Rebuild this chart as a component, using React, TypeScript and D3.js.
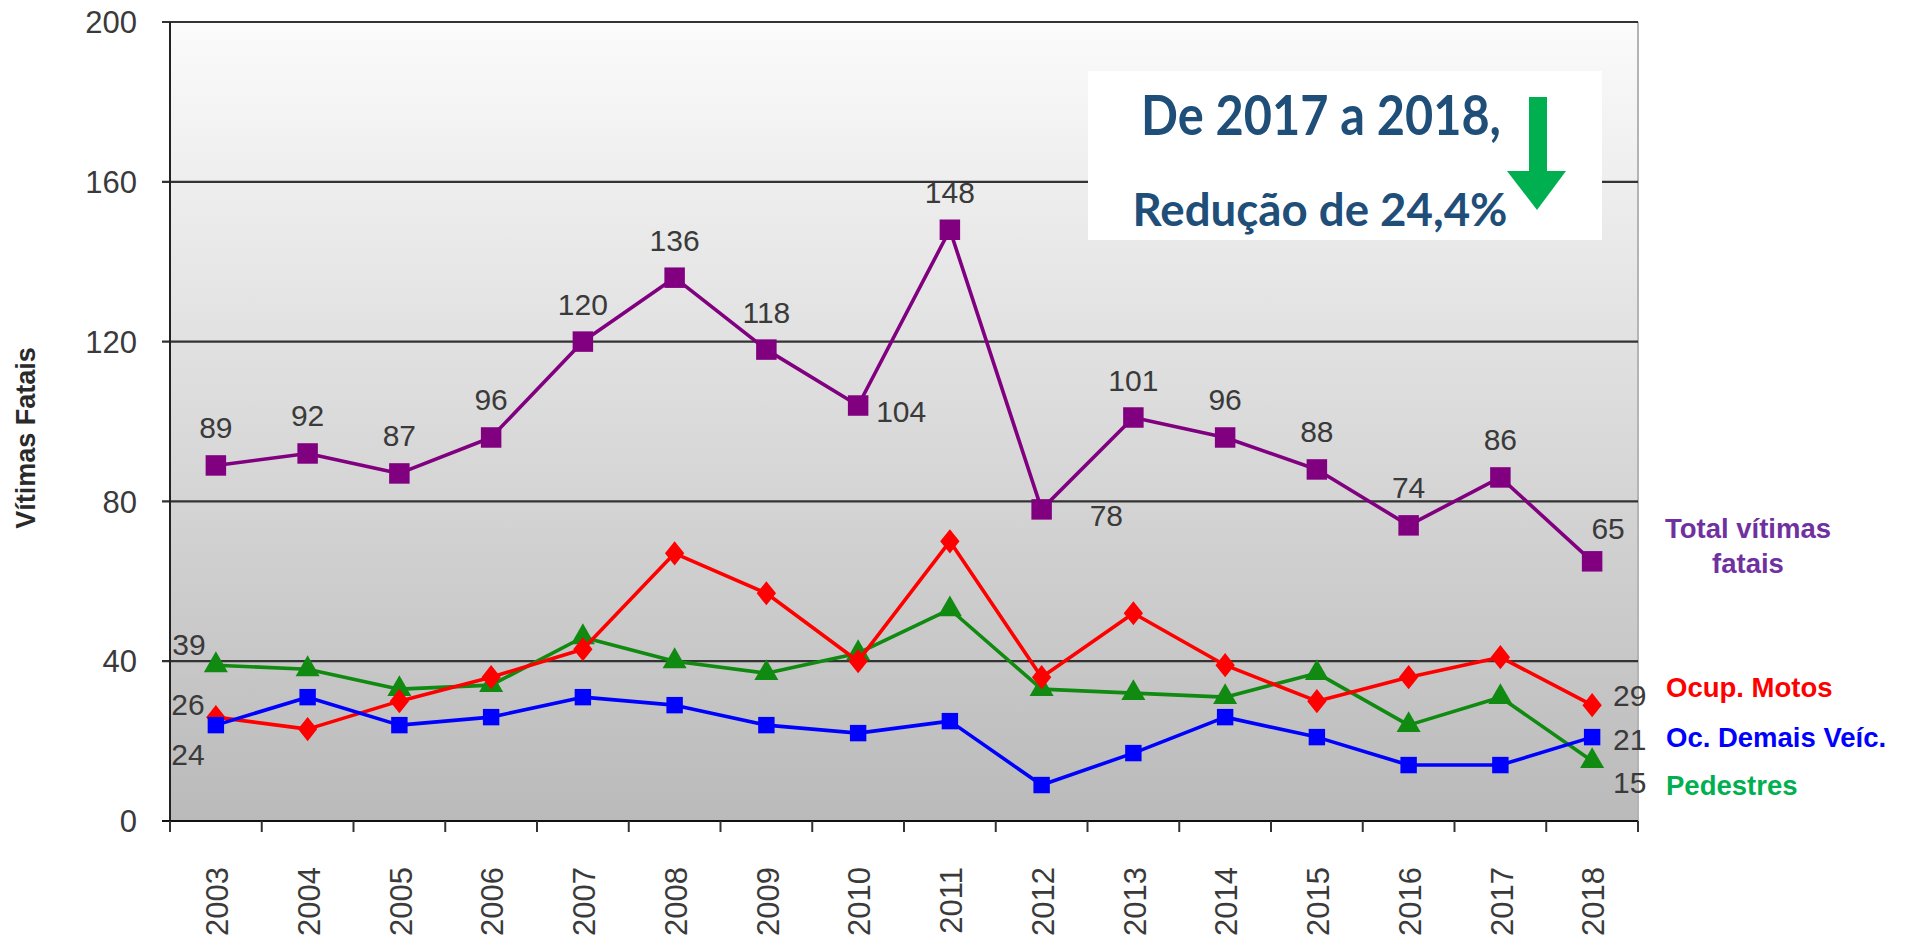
import React from "react";
import * as d3 from "d3";

const years = ["2003","2004","2005","2006","2007","2008","2009","2010","2011","2012","2013","2014","2015","2016","2017","2018"];
const totalVitimas = [89, 92, 87, 96, 120, 136, 118, 104, 148, 78, 101, 96, 88, 74, 86, 65];
const ocupMotos = [26, 23, 30, 36, 43, 67, 57, 40, 70, 36, 52, 39, 30, 36, 41, 29];
const demaisVeic = [24, 31, 24, 26, 31, 29, 24, 22, 25, 9, 17, 26, 21, 14, 14, 21];
const pedestres = [39, 38, 33, 34, 46, 40, 37, 42, 53, 33, 32, 31, 37, 24, 31, 15];
const yTicks = [0, 40, 80, 120, 160, 200];

const W = 1910, H = 952;
const left = 170, right = 1638, top = 22, bottom = 821;

const x = d3.scaleBand<string>().domain(years).range([left, right]).padding(0);
const y = d3.scaleLinear().domain([0, 200]).range([bottom, top]);
const cx = (i: number) => (x(years[i]) as number) + x.bandwidth() / 2;

const diamondType = {
  draw(ctx: any, size: number) {
    const h = Math.sqrt(size) * 0.62;
    const w = h * 0.8;
    ctx.moveTo(0, -h);
    ctx.lineTo(w, 0);
    ctx.lineTo(0, h);
    ctx.lineTo(-w, 0);
    ctx.closePath();
  },
};

// label placement for total series: [dx, dy(baseline), anchor]
const totalLabelPos: Record<number, [number, number, string]> = {
  7: [18, 16, "start"],
  9: [48, 17, "start"],
  15: [16, -22, "middle"],
};

export default function App() {
  const lineGen = d3
    .line<number>()
    .x((_, i) => cx(i))
    .y((d) => y(d));

  const series = [
    { key: "ped", values: pedestres, color: "#108a10", marker: d3.symbol(d3.symbolTriangle, 250)() },
    { key: "motos", values: ocupMotos, color: "#ff0000", marker: d3.symbol(diamondType as any, 380)() },
    { key: "demais", values: demaisVeic, color: "#0000ff", marker: d3.symbol(d3.symbolSquare, 270)() },
    { key: "total", values: totalVitimas, color: "#800080", marker: d3.symbol(d3.symbolSquare, 420)() },
  ];

  const labelFont = "'Liberation Sans', Arial, sans-serif";
  const labelColor = "#3a3a3a";
  const n = years.length;

  return (
    <svg width={W} height={H} style={{ position: "absolute", left: 0, top: 0, display: "block", background: "#fff" }}>
      <defs>
        <linearGradient id="bg" x1="0" y1="0" x2="0" y2="1">
          <stop offset="0%" stopColor="#fbfbfb" />
          <stop offset="100%" stopColor="#bababa" />
        </linearGradient>
      </defs>
      <rect x={left} y={top} width={right - left} height={bottom - top} fill="url(#bg)" />
      <line x1={right} x2={right} y1={top} y2={bottom} stroke="#b4b4b4" strokeWidth={2} />

      {/* gridlines and y ticks */}
      {yTicks.map((t) => (
        <g key={t}>
          {t > 0 && (
            <line x1={left - 8} x2={right} y1={y(t)} y2={y(t)} stroke="#333" strokeWidth={2.2} />
          )}
          <text
            x={137}
            y={y(t)}
            dy="0.36em"
            textAnchor="end"
            fontFamily={labelFont}
            fontSize={31}
            fill={labelColor}
          >
            {t}
          </text>
        </g>
      ))}

      {/* axes */}
      <line x1={left} x2={left} y1={top} y2={bottom + 10} stroke="#222" strokeWidth={2} />
      <line x1={left - 8} x2={right} y1={bottom} y2={bottom} stroke="#111" strokeWidth={2} />
      {d3.range(n + 1).map((i) => {
        const xx = left + i * x.bandwidth();
        return <line key={i} x1={xx} x2={xx} y1={bottom} y2={bottom + 11} stroke="#333" strokeWidth={2} />;
      })}

      {/* x labels */}
      {years.map((yr, i) => (
        <text
          key={yr}
          transform={`translate(${cx(i) + 1},867) rotate(-90)`}
          textAnchor="end"
          dy="0.36em"
          fontFamily={labelFont}
          fontSize={31}
          fill={labelColor}
        >
          {yr}
        </text>
      ))}

      {/* y axis title */}
      <text
        transform="translate(25,438) rotate(-90)"
        textAnchor="middle"
        dy="0.36em"
        fontFamily={labelFont}
        fontWeight="bold"
        fontSize={27}
        fill="#2a2a2a"
      >
        Vítimas Fatais
      </text>

      {/* annotation box */}
      <rect x={1088} y={71} width={514} height={169} fill="#ffffff" />
      <text
        x={1321}
        y={135}
        textAnchor="middle"
        fontFamily="Lato, 'Open Sans', sans-serif"
        fontWeight="bold"
        fontSize={55}
        fill="#1f4e79"
        textLength={360}
        lengthAdjust="spacingAndGlyphs"
      >
        De 2017 a 2018,
      </text>
      <text
        x={1320}
        y={226}
        textAnchor="middle"
        fontFamily="Lato, 'Open Sans', sans-serif"
        fontWeight="bold"
        fontSize={45}
        fill="#1f4e79"
        textLength={375}
        lengthAdjust="spacingAndGlyphs"
      >
        Redução de 24,4%
      </text>
      <rect x={1529} y={97} width={18} height={76} fill="#00b050" />
      <path d="M1507,171 L1566,171 L1537,210 Z" fill="#00b050" />

      {/* series */}
      {series.map((s) => (
        <g key={s.key}>
          <path d={lineGen(s.values) as string} fill="none" stroke={s.color} strokeWidth={3.6} strokeLinejoin="round" />
          {s.values.map((v, i) => (
            <path key={i} d={s.marker as string} transform={`translate(${cx(i)},${y(v)})`} fill={s.color} />
          ))}
        </g>
      ))}

      {/* total labels */}
      {totalVitimas.map((v, i) => {
        const p = totalLabelPos[i] || [0, -27, "middle"];
        return (
          <text
            key={i}
            x={cx(i) + p[0]}
            y={y(v) + p[1]}
            textAnchor={p[2] as any}
            fontFamily={labelFont}
            fontSize={30}
            fill={labelColor}
          >
            {v}
          </text>
        );
      })}

      {/* first / last labels for other series */}
      <text x={189} y={y(pedestres[0]) - 10} textAnchor="middle" fontFamily={labelFont} fontSize={30} fill={labelColor}>{pedestres[0]}</text>
      <text x={188} y={y(ocupMotos[0]) - 2} textAnchor="middle" fontFamily={labelFont} fontSize={30} fill={labelColor}>{ocupMotos[0]}</text>
      <text x={188} y={y(demaisVeic[0]) + 40} textAnchor="middle" fontFamily={labelFont} fontSize={30} fill={labelColor}>{demaisVeic[0]}</text>
      <text x={1613} y={y(ocupMotos[n - 1]) + 1} textAnchor="start" fontFamily={labelFont} fontSize={30} fill={labelColor}>{ocupMotos[n - 1]}</text>
      <text x={1613} y={y(demaisVeic[n - 1]) + 13} textAnchor="start" fontFamily={labelFont} fontSize={30} fill={labelColor}>{demaisVeic[n - 1]}</text>
      <text x={1613} y={y(pedestres[n - 1]) + 32} textAnchor="start" fontFamily={labelFont} fontSize={30} fill={labelColor}>{pedestres[n - 1]}</text>

      {/* series names */}
      <g fontFamily={labelFont} fontWeight="bold" fontSize={27.5}>
        <text x={1748} y={538} textAnchor="middle" fill="#7030a0">Total vítimas</text>
        <text x={1748} y={573} textAnchor="middle" fill="#7030a0">fatais</text>
        <text x={1666} y={697} fill="#ff0000">Ocup. Motos</text>
        <text x={1666} y={747} fill="#0000ff">Oc. Demais Veíc.</text>
        <text x={1666} y={795} fill="#00b050">Pedestres</text>
      </g>
    </svg>
  );
}
